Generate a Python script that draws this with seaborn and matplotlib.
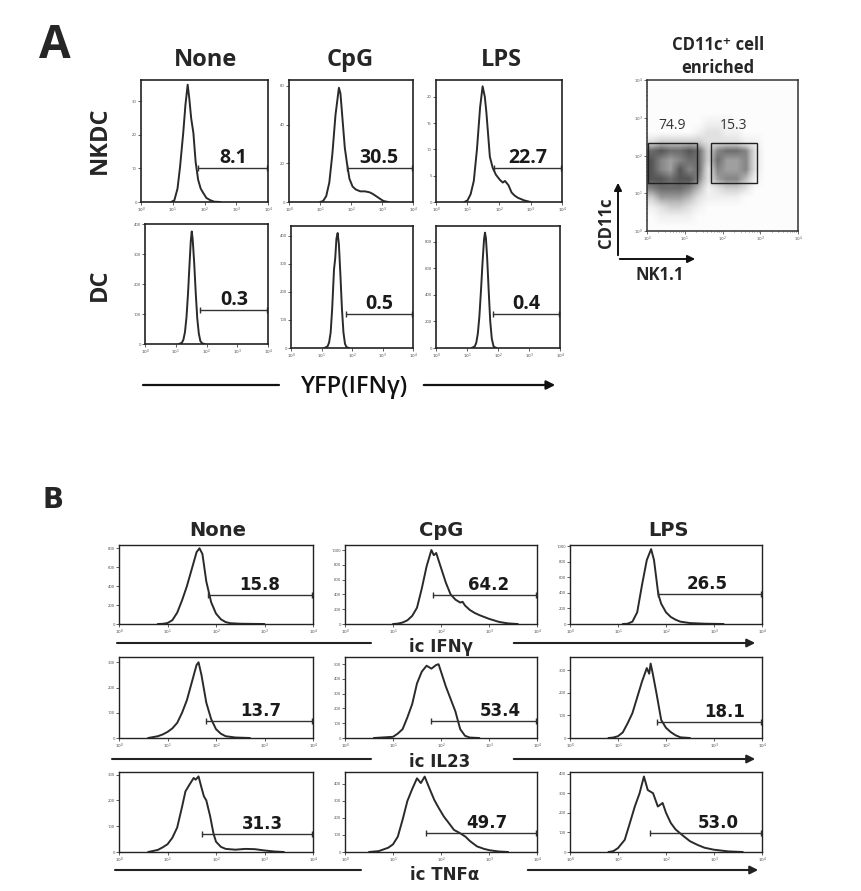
import matplotlib
matplotlib.use("Agg")
import matplotlib.pyplot as plt
import seaborn as sns

W, H = 861, 891

# ---------------- panel A data (x = log10 fluorescence) ----------------
a_conditions = ["None", "CpG", "LPS"]
a_cells = ["NKDC", "DC"]
a_gate_pct = [["8.1", "30.5", "22.7"], ["0.3", "0.5", "0.4"]]
a_gate_lo = [[1.80, 1.87, 1.84], [1.79, 1.80, 1.84]]
a_gate_level = [[10, 17.6, 6.5], [113, 121, 257]]
a_yticks = [[[0, 10, 20, 30], [0, 20, 40, 60], [0, 5, 10, 15, 20]],
            [[0, 100, 200, 300, 400], [0, 100, 200, 300, 400], [0, 200, 400, 600, 800]]]

nkdc_none_x = [0.95, 1.05, 1.15, 1.23, 1.33, 1.40, 1.47, 1.52, 1.58, 1.65, 1.72, 1.80, 1.88, 1.96, 2.06, 2.17, 2.30, 2.50]
nkdc_none_y = [0, 0.5, 4, 10.5, 20.6, 29, 35, 31, 25, 20.6, 12, 6.6, 4, 2.7, 1.2, 0.6, 0.1, 0]
nkdc_cpg_x = [1.0, 1.1, 1.2, 1.3, 1.4, 1.5, 1.61, 1.66, 1.72, 1.8, 1.87, 1.95, 2.05, 2.15, 2.3, 2.45, 2.6, 2.7, 2.84, 2.95, 3.05, 3.2]
nkdc_cpg_y = [0, 0.5, 3, 10, 25, 45, 59, 56, 44, 28, 20, 12, 8, 6.5, 5.5, 5.5, 5, 4.2, 2.7, 1.5, 0.5, 0]
nkdc_lps_x = [0.9, 1.0, 1.1, 1.2, 1.3, 1.4, 1.48, 1.55, 1.6, 1.71, 1.8, 1.9, 2.03, 2.12, 2.19, 2.3, 2.4, 2.5, 2.6, 2.8, 3.0]
nkdc_lps_y = [0, 0.3, 1.5, 4, 10, 18, 22, 20, 17, 8.6, 6.5, 5.2, 4.2, 3.7, 4, 3.2, 1.8, 1.2, 0.8, 0.3, 0]
dc_none_x = [1.10, 1.20, 1.25, 1.30, 1.35, 1.40, 1.45, 1.49, 1.52, 1.55, 1.60, 1.65, 1.70, 1.75, 1.80, 1.86, 1.95]
dc_none_y = [0, 4, 15, 40, 90, 170, 270, 345, 375, 350, 270, 170, 85, 35, 10, 2, 0]
dc_cpg_x = [1.10, 1.20, 1.25, 1.30, 1.35, 1.41, 1.45, 1.49, 1.53, 1.57, 1.62, 1.67, 1.72, 1.77, 1.82, 1.90]
dc_cpg_y = [0, 6, 20, 55, 140, 280, 320, 390, 410, 370, 260, 140, 55, 15, 3, 0]
dc_lps_x = [1.15, 1.25, 1.30, 1.35, 1.40, 1.45, 1.50, 1.55, 1.58, 1.61, 1.65, 1.70, 1.75, 1.80, 1.86, 1.95]
dc_lps_y = [0, 12, 40, 110, 240, 430, 640, 820, 870, 830, 680, 430, 200, 70, 10, 0]

# CD11c+ enriched dot plot: event density on a 0.25-decade grid (top row = 10^4)
dot_density = [
    [0, 0, 0, 0, 0, 0, 0, 0, 0, 0, 0, 0, 0, 0, 0, 0],
    [0, 0, 0, 0, 0, 0, 0, 0, 0, 0, 0, 0, 0, 0, 0, 0],
    [0, 0, 0, 0, 0, 0, 0, 0, 0, 0, 0, 0, 0, 0, 0, 0],
    [0, 0, 0, 0, 0, 0, 0, 0, 0, 0, 0, 0, 0, 0, 0, 0],
    [0, 0, 0, 0, 0, 0, 1, 1, 1, 0, 0, 0, 0, 0, 0, 0],
    [0, 0, 0, 0, 0, 1, 2, 2, 1, 1, 0, 0, 0, 0, 0, 0],
    [2, 3, 3, 3, 3, 3, 2, 2, 2, 2, 1, 1, 0, 0, 0, 0],
    [7, 8, 7, 7, 8, 7, 3, 6, 7, 7, 6, 2, 0, 0, 0, 0],
    [8, 6, 5, 6, 7, 7, 3, 7, 5, 5, 6, 2, 0, 0, 0, 0],
    [8, 6, 5, 8, 6, 7, 2, 6, 5, 5, 6, 2, 0, 0, 0, 0],
    [8, 8, 7, 8, 8, 6, 2, 5, 6, 6, 4, 1, 0, 0, 0, 0],
    [6, 7, 7, 7, 6, 4, 1, 2, 3, 3, 2, 0, 0, 0, 0, 0],
    [3, 5, 5, 5, 4, 2, 1, 1, 1, 1, 0, 0, 0, 0, 0, 0],
    [1, 2, 3, 3, 2, 1, 0, 0, 0, 0, 0, 0, 0, 0, 0, 0],
    [0, 1, 1, 1, 1, 0, 0, 0, 0, 0, 0, 0, 0, 0, 0, 0],
    [0, 0, 0, 0, 0, 0, 0, 0, 0, 0, 0, 0, 0, 0, 0, 0],
]
dot_gates = [(0.03, 1.28, 1.32, 2.34), (1.70, 1.28, 2.91, 2.34)]
dot_gate_pct = ["74.9", "15.3"]

# ---------------- panel B data ----------------
b_conditions = ["None", "CpG", "LPS"]
b_markers = ["ic IFNγ", "ic IL23", "ic TNFα"]
b_gate_pct = [["15.8", "64.2", "26.5"], ["13.7", "53.4", "18.1"], ["31.3", "49.7", "53.0"]]
b_gate_lo = [[1.84, 1.83, 1.83], [1.80, 1.79, 1.81], [1.71, 1.69, 1.67]]
b_gate_level = [[308, 392, 380], [68, 116, 73], [71, 112, 95]]
b_yticks = [[[0, 200, 400, 600, 800], [0, 200, 400, 600, 800, 1000], [0, 200, 400, 600, 800, 1000]],
            [[0, 100, 200, 300], [0, 100, 200, 300, 400, 500], [0, 100, 200, 300]],
            [[0, 100, 200, 300], [0, 100, 200, 300, 400], [0, 100, 200, 300, 400]]]

ifng_none_x = [0.8, 0.9, 1.0, 1.1, 1.2, 1.3, 1.4, 1.5, 1.6, 1.66, 1.72, 1.8, 1.9, 2.0, 2.1, 2.2, 2.3, 2.5, 2.8, 3.0]
ifng_none_y = [0, 2, 10, 40, 120, 250, 400, 580, 760, 800, 740, 450, 230, 110, 50, 20, 8, 3, 1, 0]
ifng_cpg_x = [1.0, 1.1, 1.2, 1.3, 1.4, 1.5, 1.6, 1.7, 1.8, 1.85, 1.9, 2.0, 2.1, 2.2, 2.3, 2.4, 2.45, 2.5, 2.6, 2.7, 2.8, 2.9, 3.0, 3.1, 3.2, 3.3, 3.4, 3.6]
ifng_cpg_y = [0, 5, 20, 50, 110, 220, 480, 780, 1000, 930, 960, 760, 560, 400, 330, 290, 300, 250, 190, 150, 120, 95, 70, 50, 30, 18, 8, 0]
ifng_lps_x = [1.1, 1.2, 1.3, 1.4, 1.5, 1.6, 1.69, 1.75, 1.84, 1.9, 2.0, 2.1, 2.2, 2.3, 2.5, 2.8, 3.2]
ifng_lps_y = [0, 3, 30, 150, 500, 820, 960, 820, 380, 260, 150, 90, 55, 30, 12, 4, 0]
il23_none_x = [0.6, 0.8, 0.9, 1.0, 1.1, 1.2, 1.3, 1.4, 1.5, 1.6, 1.64, 1.7, 1.8, 1.9, 2.0, 2.1, 2.2, 2.4, 2.7]
il23_none_y = [0, 7, 14, 24, 38, 60, 100, 150, 220, 290, 300, 250, 140, 75, 35, 17, 7, 2, 0]
il23_cpg_x = [0.6, 0.8, 1.0, 1.1, 1.2, 1.3, 1.4, 1.5, 1.6, 1.7, 1.75, 1.8, 1.9, 1.95, 2.0, 2.1, 2.2, 2.3, 2.4, 2.5, 2.6, 2.8]
il23_cpg_y = [0, 4, 8, 30, 60, 140, 230, 370, 450, 490, 480, 470, 495, 500, 450, 350, 265, 180, 60, 15, 3, 0]
il23_lps_x = [0.8, 0.9, 1.0, 1.1, 1.2, 1.3, 1.4, 1.5, 1.6, 1.65, 1.68, 1.72, 1.8, 1.9, 2.0, 2.1, 2.2, 2.3, 2.5]
il23_lps_y = [0, 2, 8, 25, 65, 110, 180, 250, 310, 285, 330, 290, 200, 80, 45, 26, 12, 3, 0]
tnfa_none_x = [0.6, 0.8, 0.9, 1.0, 1.1, 1.2, 1.3, 1.37, 1.45, 1.54, 1.58, 1.64, 1.7, 1.75, 1.8, 1.88, 1.95, 2.0, 2.1, 2.2, 2.4, 2.6, 2.8, 3.0, 3.2, 3.4]
tnfa_none_y = [0, 8, 18, 30, 55, 95, 175, 235, 260, 287, 280, 293, 250, 216, 200, 138, 70, 40, 20, 12, 9, 12, 11, 6, 2, 0]
tnfa_cpg_x = [0.5, 0.7, 0.9, 1.0, 1.1, 1.2, 1.3, 1.4, 1.5, 1.58, 1.66, 1.75, 1.86, 1.95, 2.06, 2.15, 2.27, 2.4, 2.51, 2.6, 2.75, 2.9, 3.02, 3.2, 3.4]
tnfa_cpg_y = [0, 5, 25, 45, 90, 190, 300, 370, 433, 405, 443, 380, 306, 260, 208, 175, 130, 110, 90, 65, 33, 18, 10, 3, 0]
tnfa_lps_x = [0.8, 0.9, 1.0, 1.14, 1.25, 1.35, 1.45, 1.54, 1.62, 1.73, 1.83, 1.93, 2.0, 2.1, 2.2, 2.37, 2.5, 2.65, 2.8, 2.99, 3.3, 3.6]
tnfa_lps_y = [0, 4, 20, 62, 150, 232, 300, 385, 316, 300, 232, 250, 200, 148, 115, 80, 55, 37, 22, 12, 3, 0]

a_curves = [[(nkdc_none_x, nkdc_none_y), (nkdc_cpg_x, nkdc_cpg_y), (nkdc_lps_x, nkdc_lps_y)],
            [(dc_none_x, dc_none_y), (dc_cpg_x, dc_cpg_y), (dc_lps_x, dc_lps_y)]]
b_curves = [[(ifng_none_x, ifng_none_y), (ifng_cpg_x, ifng_cpg_y), (ifng_lps_x, ifng_lps_y)],
            [(il23_none_x, il23_none_y), (il23_cpg_x, il23_cpg_y), (il23_lps_x, il23_lps_y)],
            [(tnfa_none_x, tnfa_none_y), (tnfa_cpg_x, tnfa_cpg_y), (tnfa_lps_x, tnfa_lps_y)]]

# ---------------- layout (pixels) ----------------
a_boxes = [[(141, 268, 80, 202), (289, 413, 80, 202), (436, 562, 80, 202)],
           [(145, 268, 224, 344), (291, 413, 226, 348), (436, 560, 226, 348)]]
a_ymax = [[36.4, 63, 23.2], [400, 435, 920]]
b_cols = [(119, 313), (345, 537), (570, 762)]
b_rows = [(545, 624), (657, 738), (772, 852)]
b_ymax = [[835, 1068, 1013], [321, 549, 359], [310, 470, 408]]
b_num_x = [[2.9, 3.0, 2.86], [2.92, 3.24, 3.22], [2.95, 2.96, 3.08]]

sns.set_style("white")
plt.rcParams["font.family"] = ["Open Sans", "DejaVu Sans"]
plt.rcParams["mathtext.fontset"] = "dejavusans"

fig = plt.figure(figsize=(W / 100, H / 100), dpi=100)
ov = fig.add_axes([0, 0, 1, 1], zorder=-1)
ov.set_xlim(0, W)
ov.set_ylim(H, 0)
ov.axis("off")


def box_axes(x0, x1, y0, y1):
    return fig.add_axes([x0 / W, 1 - y1 / H, (x1 - x0) / W, (y1 - y0) / H])


def histogram(ax, xs, ys, ymax, yticks, lo, level, pct, num_x, fsize, fweight, family, spine_lw):
    sns.lineplot(x=[10 ** v for v in xs], y=ys, ax=ax, color="#2a2a2a", linewidth=1.4,
                 sort=False, estimator=None)
    ax.set_xscale("log")
    ax.set_xlim(1, 1e4)
    ax.set_ylim(0, ymax)
    ax.set_xticks([1, 10, 100, 1e3, 1e4], labels=[f"$10^{k}$" for k in range(5)])
    ax.set_yticks(yticks, labels=[str(t) for t in yticks])
    ax.tick_params(axis="both", which="major", labelsize=3, length=2, width=0.6,
                   colors="#444444", pad=1, direction="out")
    ax.tick_params(axis="both", which="minor", length=1, width=0.4, direction="out")
    ax.tick_params(left=True, bottom=True)
    ax.set_xlabel("")
    ax.set_ylabel("")
    for s in ax.spines.values():
        s.set_linewidth(spine_lw)
        s.set_color("#222222")
    ax.plot([10 ** lo, 10 ** 3.97], [level, level], color="#333333", lw=1.0,
            marker="|", ms=4, mew=1)
    ax.annotate(pct, xy=(10 ** num_x, level), xytext=(0, 5), textcoords="offset pixels",
                ha="center", va="baseline", fontsize=fsize, fontweight=fweight,
                family=family, color="#1a1a1a")


# ---------------- panel A ----------------
ov.text(55, 45, "A", fontsize=33, fontweight="bold", ha="center", va="center")
for j, cond in enumerate(a_conditions):
    cx = [205, 350, 501][j]
    ov.text(cx, 60, cond, fontsize=17, fontweight="bold", ha="center", va="center")
for i, cell in enumerate(a_cells):
    ov.text(100, [140, 285][i], cell, fontsize=17, fontweight="bold", ha="center",
            va="center", rotation=90)
    for j in range(3):
        ax = box_axes(*a_boxes[i][j])
        xs, ys = a_curves[i][j]
        histogram(ax, xs, ys, a_ymax[i][j], a_yticks[i][j], a_gate_lo[i][j],
                  a_gate_level[i][j], a_gate_pct[i][j], 2.9, 14, "bold",
                  ["Open Sans", "DejaVu Sans"], 1.2)

ov.plot([143, 279], [385, 385], color="#111111", lw=1.6)
ov.annotate("", xy=(558, 385), xytext=(421, 385),
            arrowprops=dict(arrowstyle="-|>", lw=1.6, color="#111111", mutation_scale=13))
ov.text(355, 387, "YFP(IFNγ)", fontsize=17, fontweight=600, ha="center", va="center",
        color="#111111")

# ---------------- dot plot ----------------
ax = box_axes(647, 798, 80, 231)
ax.imshow(dot_density, extent=(0, 4, 0, 4), cmap="Greys", vmin=-0.3, vmax=11,
          interpolation="bilinear", aspect="auto")
for (gx0, gy0, gx1, gy1), pct in zip(dot_gates, dot_gate_pct):
    ax.add_patch(plt.Rectangle((gx0, gy0), gx1 - gx0, gy1 - gy0, fill=False,
                               ec="#222222", lw=1.0))
    ax.text((gx0 + gx1) / 2, gy1 + 0.25, pct, ha="center", va="bottom", fontsize=10,
            color="#333333")
ax.set_xlim(0, 4)
ax.set_ylim(0, 4)
minor = [k + m for k in range(4) for m in [0.301, 0.477, 0.602, 0.699, 0.778, 0.845, 0.903, 0.954]]
for axis in (ax.xaxis, ax.yaxis):
    axis.set_ticks(range(5), labels=[f"$10^{k}$" for k in range(5)])
    axis.set_ticks(minor, minor=True)
ax.tick_params(axis="both", which="major", labelsize=3, length=2, width=0.6,
               colors="#555555", pad=1, direction="out", left=True, bottom=True)
ax.tick_params(axis="both", which="minor", length=1, width=0.4, direction="out",
               left=True, bottom=True)
for s in ax.spines.values():
    s.set_linewidth(1.1)
    s.set_color("#333333")

ov.text(718, 45, "CD11c⁺ cell", fontsize=12, fontweight="bold", ha="center", va="center")
ov.text(718, 68, "enriched", fontsize=12, fontweight="bold", ha="center", va="center")
ov.annotate("", xy=(618, 180), xytext=(618, 258),
            arrowprops=dict(arrowstyle="-|>", lw=1.4, color="#111111", mutation_scale=11))
ov.annotate("", xy=(698, 259), xytext=(617, 259),
            arrowprops=dict(arrowstyle="-|>", lw=1.4, color="#111111", mutation_scale=11))
ov.text(606, 223, "CD11c", fontsize=12, fontweight="bold", ha="center", va="center",
        rotation=90)
ov.text(660, 275, "NK1.1", fontsize=12, fontweight="bold", ha="center", va="center")

# ---------------- panel B ----------------
bfam = "DejaVu Sans"
ov.text(53, 500, "B", fontsize=20, fontweight="bold", ha="center", va="center", family=bfam)
for j, cond in enumerate(b_conditions):
    ov.text([218, 441, 668][j], 530, cond, fontsize=14, fontweight="bold", ha="center",
            va="center", family=bfam)
for i in range(3):
    y0, y1 = b_rows[i]
    for j in range(3):
        x0, x1 = b_cols[j]
        ax = box_axes(x0, x1, y0, y1)
        xs, ys = b_curves[i][j]
        histogram(ax, xs, ys, b_ymax[i][j], b_yticks[i][j], b_gate_lo[i][j],
                  b_gate_level[i][j], b_gate_pct[i][j], b_num_x[i][j], 12, "bold", bfam, 1.0)

b_label_y = [647, 762, 875]
b_label_x = [441, 440, 445]
b_line_y = [643, 759, 870]
b_left = [(117, 371), (112, 371), (115, 361)]
b_right = [(511, 758), (511, 758), (525, 761)]
for i, marker in enumerate(b_markers):
    ly = b_line_y[i]
    ov.plot(b_left[i], [ly, ly], color="#222222", lw=1.5)
    ov.annotate("", xy=(b_right[i][1], ly), xytext=(b_right[i][0], ly),
                arrowprops=dict(arrowstyle="-|>", lw=1.5, color="#222222", mutation_scale=12))
    ov.text(b_label_x[i], b_label_y[i], marker, fontsize=12, fontweight="bold", ha="center",
            va="center", family=bfam)

fig.savefig("out.png", dpi=100)
